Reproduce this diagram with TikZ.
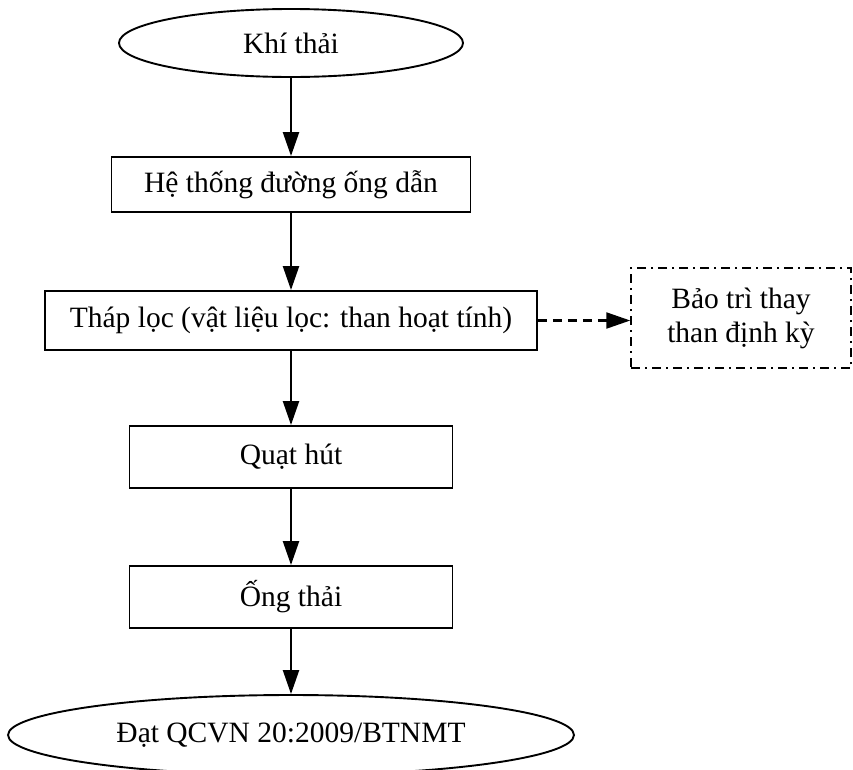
\documentclass[tikz,border=0pt]{standalone}
\usepackage{fontspec}
\setmainfont{Liberation Serif}
\usetikzlibrary{shapes.geometric,arrows.meta}
\begin{document}
\begin{tikzpicture}[x=1pt,y=1pt,
  txt/.style={font=\fontsize{29.5pt}{34pt}\selectfont},
  boxnode/.style={draw,line width=1.9pt,rectangle,inner sep=0pt,txt},
  ovalnode/.style={draw,line width=1.9pt,ellipse,inner sep=0pt,txt},
  notebox/.style={draw,line width=1.5pt,rectangle,inner sep=0pt,align=center,txt,
    dash pattern=on 9pt off 5pt on 2pt off 5pt},
  arr/.style={line width=2.3pt,-{Triangle[length=24pt,width=16pt]}},
  dasharr/.style={arr,dash pattern=on 9pt off 6pt}
]
\useasboundingbox (0,0) rectangle (853,-769);
\clip (0,0) rectangle (853,-769);
\node[ovalnode,minimum width=344pt,minimum height=68pt] (e1) at (291,-43) {Khí thải};
\node[boxnode,minimum width=359pt,minimum height=55pt] (b1) at (291,-184.5) {Hệ thống đường ống dẫn};
\node[boxnode,minimum width=492pt,minimum height=59pt] (b2) at (291,-320.5) {Tháp lọc (vật liệu lọc: than hoạt tính)};
\node[notebox,minimum width=220pt,minimum height=100pt] (d) at (741,-318) {Bảo trì thay\\than định kỳ};
\node[boxnode,minimum width=323pt,minimum height=62pt] (b3) at (291,-457) {Quạt hút};
\node[boxnode,minimum width=323pt,minimum height=62pt] (b4) at (291,-597) {Ống thải};
\node[ovalnode,minimum width=566pt,minimum height=80pt] (e2) at (291,-735) {Đạt QCVN 20:2009/BTNMT};
\draw[arr] (e1) -- (b1);
\draw[arr] (b1) -- (b2);
\draw[arr] (b2) -- (b3);
\draw[arr] (b3) -- (b4);
\draw[arr] (b4) -- (e2);
\draw[dasharr] (b2.east) -- (b2.east -| d.west);
\end{tikzpicture}
\end{document}
